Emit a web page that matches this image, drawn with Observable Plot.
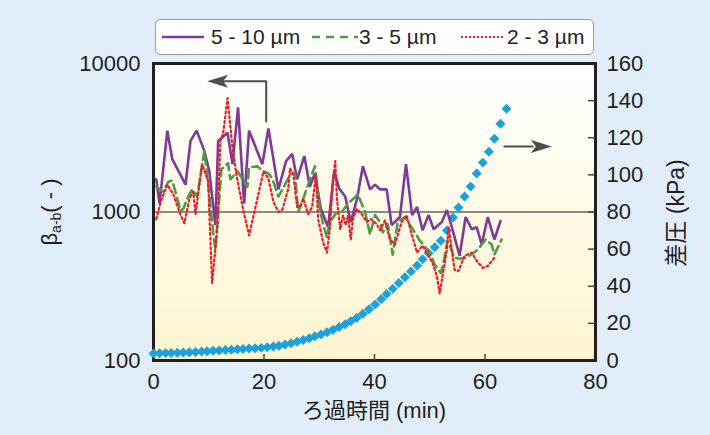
<!DOCTYPE html>
<html><head><meta charset="utf-8">
<script src="https://cdn.jsdelivr.net/npm/d3@7"></script>
<script src="https://cdn.jsdelivr.net/npm/@observablehq/plot@0.6"></script>
<style>
body{margin:0;background:#e1eef9;width:710px;height:435px;overflow:hidden;position:relative;font-family:"Liberation Sans",Arial,"Noto Sans CJK JP",sans-serif;}
#chart{position:absolute;left:0;top:0;}
#legend{position:absolute;left:155px;top:19px;width:437px;height:34px;background:#fff;border:1.5px solid #9a9a9a;border-radius:5px;}
.item{position:absolute;top:0;height:34px;display:flex;align-items:center;font-size:21px;color:#231f20;white-space:nowrap;}
.item svg{display:block;}
</style></head><body>
<div id="chart"></div>
<div id="legend"></div>
<script>
// ---- data ----
const seriesNames = ["5 - 10 µm", "3 - 5 µm", "2 - 3 µm"];

const purpleT = [0.5,1.1,2.5,3.4,5.8,6.7,7.8,9.2,10.1,11.2,11.7,13.4,14.3,15.3,16.4,17.3,19.7,20.8,22.6,24.0,25.1,26.0,27.3,28.3,29.2,30.3,31.6,32.7,33.6,34.7,35.7,36.8,37.9,39.2,40.1,41.0,42.2,43.1,44.6,45.7,46.8,47.7,48.7,49.8,50.7,52.2,53.1,54.0,55.4,56.5,57.6,58.5,59.4,60.5,61.7,62.8];
const purpleV = [1660,1140,3530,2270,1530,3010,3530,2580,1880,815,3010,3420,2100,5070,1140,3530,2100,3650,1420,2200,2460,1660,2380,1480,1820,1050,790,1880,1440,1270,855,1210,2030,1420,1530,1420,1420,815,925,2100,953,1080,753,953,765,855,1030,790,507,925,765,790,604,925,653,867];

const greenT = [0.5,1.8,2.7,3.4,4.2,4.9,5.4,6.1,7.0,7.9,9.2,10.1,10.8,11.2,12.3,13.5,13.9,15.2,17.0,17.3,18.8,19.9,20.8,21.5,22.6,23.8,24.7,25.6,26.2,26.9,28.0,29.2,30.1,30.7,31.4,31.9,33.2,34.1,35.2,37.0,38.3,39.2,40.1,41.0,41.5,42.4,43.3,44.2,45.5,47.3,48.2,50.0,50.9,52.0,52.5,53.2,54.5,55.4,56.7,58.7,60.1,61.2,61.7,63.0];
const greenV = [1480,1370,1600,1630,1270,1020,1050,1230,1420,1270,2580,1310,729,558,1940,2130,1660,1880,1480,2000,2030,1880,1820,1680,1270,1530,1790,1820,1000,1170,1530,2030,1050,828,675,855,1000,1000,1140,1310,1000,706,953,855,729,828,516,855,925,729,643,532,441,388,455,643,492,485,492,558,653,604,516,653];

const redT = [0.5,1.3,2.5,3.6,4.9,5.6,6.5,7.2,7.6,8.8,9.9,10.6,11.6,12.1,12.6,13.4,14.3,15.0,16.2,17.3,18.8,19.9,20.8,21.7,22.6,23.3,24.4,24.7,25.3,26.0,26.5,27.1,28.0,28.7,29.4,29.8,30.7,31.4,31.9,32.5,32.9,33.2,33.8,34.3,34.8,35.2,35.7,36.1,36.8,37.7,38.6,39.4,40.4,41.0,41.9,42.8,43.7,44.9,45.8,46.8,47.7,48.7,50.5,51.3,51.8,53.1,53.4,54.0,54.5,55.2,56.3,57.6,58.5,59.6,60.5,61.7];
const redV = [896,1170,1530,1310,953,841,1230,1370,968,2100,1600,332,815,3010,3370,5850,2700,1790,1050,695,1230,1880,1680,1170,1000,1030,1440,1970,1790,1080,1080,1230,968,1080,1790,896,624,532,765,1680,2200,1230,765,953,815,953,653,896,1050,968,855,896,828,753,880,653,604,855,953,695,532,594,455,370,283,558,789,558,407,400,507,532,469,420,433,492];

const pressT = [0.0,1.1,2.2,3.2,4.3,5.4,6.5,7.6,8.7,9.7,10.8,11.9,13.0,14.1,15.2,16.2,17.3,18.4,19.5,20.6,21.7,22.7,23.8,24.9,26.0,27.1,28.2,29.2,30.3,31.4,32.5,33.6,34.7,35.7,36.8,37.9,39.0,40.1,41.2,42.2,43.3,44.4,45.5,46.6,47.7,48.7,49.8,50.9,52.0,53.1,54.2,55.2,56.3,57.4,58.5,59.6,60.7,61.7,62.8,63.9];
const pressKPa = [3.8,3.9,4.0,4.1,4.2,4.3,4.4,4.6,4.8,5.0,5.2,5.4,5.6,5.8,6.0,6.2,6.4,6.6,6.8,7.1,7.5,8.0,8.6,9.3,10.1,11.0,12.0,13.0,14.0,15.2,16.5,18.0,19.5,21.2,23.0,25.2,27.6,30.2,33.0,35.8,38.7,41.7,44.8,48.0,51.2,54.5,57.8,61.0,64.5,70.0,77.0,82.4,88.3,93.7,100.7,106.6,112.5,119.5,127.5,135.6];

const xTicks = [0,20,40,60,80];
const leftTicks = [100,1000,10000];
const rightTicks = [0,20,40,60,80,100,120,140,160];
const refLine = [1000];

// annotation arrows (time, β units)
const arrowLeftPath = [[20.4,4064],[20.4,7600],[12.6,7600]];
const arrowRightPath = [[63.5,2760],[68.6,2760]];
const arrowTips = [{t:9.7, v:7600, dir:180},{t:72.1, v:2760, dir:0}];

// ---- helpers ----
const kpaToBeta = k => 100 * Math.pow(10, k / 80);
const zip = (T, V) => T.map((t, i) => ({t, v: V[i]}));

const purple = "#7d3a97", green = "#4e9a47", red = "#ee1c25", blue = "#1ba1dd", ink = "#231f20";
const pressData = pressT.map((t, i) => ({t, v: kpaToBeta(pressKPa[i])}));
const rightLabels = rightTicks.map(k => ({k, v: kpaToBeta(k)}));

const arrowHead = {draw(ctx){ctx.moveTo(0,0);ctx.lineTo(-21,-6.5);ctx.lineTo(-16,0);ctx.lineTo(-21,6.5);ctx.closePath();}};

const chart = Plot.plot({
  width: 710, height: 435,
  marginLeft: 153, marginRight: 115, marginTop: 63, marginBottom: 75,
  style: {background: "transparent", fontFamily: "'Liberation Sans', Arial, sans-serif", color: ink},
  x: {domain: [0, 80], label: null},
  y: {type: "log", domain: [100, 10000], label: null},
  marks: [
    Plot.frame({fill: "url(#bgGrad)"}),
    Plot.ruleY(refLine, {stroke: "#8a8a8a", strokeWidth: 2}),
    Plot.frame({stroke: ink, strokeWidth: 3}),
    Plot.tickX(xTicks.slice(1, -1), {x: d => d, stroke: "#444", strokeWidth: 1.5, insetTop: 291}),
    Plot.tickY(rightLabels.slice(1, -1), {y: "v", stroke: "#444", strokeWidth: 1.5, insetLeft: 435}),
    Plot.dot(pressData, {x: "t", y: "v", symbol: "diamond2", r: 4.5, fill: blue, stroke: "none"}),
    Plot.line(zip(purpleT, purpleV), {x: "t", y: "v", stroke: purple, strokeWidth: 2.6, strokeLinejoin: "miter"}),
    Plot.line(zip(greenT, greenV), {x: "t", y: "v", stroke: green, strokeWidth: 2.6, strokeDasharray: "9,5"}),
    Plot.line(zip(redT, redV), {x: "t", y: "v", stroke: red, strokeWidth: 2.2, strokeDasharray: "2,2.8"}),
    Plot.line(arrowLeftPath, {x: d => d[0], y: d => d[1], stroke: "#4d4d4d", strokeWidth: 2}),
    Plot.line(arrowRightPath, {x: d => d[0], y: d => d[1], stroke: "#4d4d4d", strokeWidth: 2}),
    Plot.dot(arrowTips, {x: "t", y: "v", rotate: "dir", symbol: arrowHead, fill: "#4d4d4d", stroke: "none"}),
    Plot.axisX({ticks: xTicks, tickSize: 0, tickPadding: 13, fontSize: 22, label: null, tickFormat: d => String(d)}),
    Plot.axisY({anchor: "left", ticks: leftTicks, tickSize: 0, tickPadding: 13, fontSize: 22, label: null, tickFormat: d => String(d)}),
    Plot.text(rightLabels, {y: "v", text: d => String(d.k), frameAnchor: "right", textAnchor: "start", dx: 11, fontSize: 22, fill: ink})
  ]
});
document.getElementById("chart").appendChild(chart);

// gradient for plot background
const svg = d3.select(chart);
const grad = svg.insert("defs", ":first-child").append("linearGradient")
  .attr("id", "bgGrad").attr("x1", 0).attr("y1", 0).attr("x2", 0).attr("y2", 1);
grad.append("stop").attr("offset", 0).attr("stop-color", "#ffffff");
grad.append("stop").attr("offset", 1).attr("stop-color", "#fef5cf");

// axis titles
const fam = "'Liberation Sans', Arial, 'Noto Sans CJK JP', sans-serif";
svg.append("text").attr("x", 374).attr("y", 418).attr("text-anchor", "middle")
  .attr("font-family", fam).attr("font-size", 22).attr("fill", ink).text("ろ過時間 (min)");
svg.append("text").attr("transform", "translate(684,213) rotate(-90)").attr("text-anchor", "middle")
  .attr("font-family", fam).attr("font-size", 23).attr("fill", ink).text("差圧 (kPa)");
const lt = svg.append("text").attr("transform", "translate(57,212) rotate(-90)").attr("text-anchor", "middle")
  .attr("font-family", fam).attr("font-size", 22).attr("fill", ink);
lt.append("tspan").text("β");
lt.append("tspan").attr("font-size", 14).attr("dy", 4).text("a-b");
lt.append("tspan").attr("dy", -4).text("( - )");

// legend
const legendItems = [
  {name: seriesNames[0], color: purple, dash: null, w: 2.6, lineX: 6, lineW: 42, textX: 55},
  {name: seriesNames[1], color: green, dash: "8,6", w: 2.6, lineX: 156, lineW: 46, textX: 203},
  {name: seriesNames[2], color: red, dash: "2,2", w: 2, lineX: 305, lineW: 43, textX: 351}
];
const legend = d3.select("#legend");
for (const it of legendItems) {
  const ls = legend.append("div").attr("class", "item").style("left", it.lineX + "px")
    .append("svg").attr("width", it.lineW).attr("height", 10);
  ls.append("line").attr("x1", 0).attr("x2", it.lineW).attr("y1", 5).attr("y2", 5)
    .attr("stroke", it.color).attr("stroke-width", it.w).attr("stroke-dasharray", it.dash);
  legend.append("div").attr("class", "item").style("left", it.textX + "px").text(it.name);
}
</script></body></html>
